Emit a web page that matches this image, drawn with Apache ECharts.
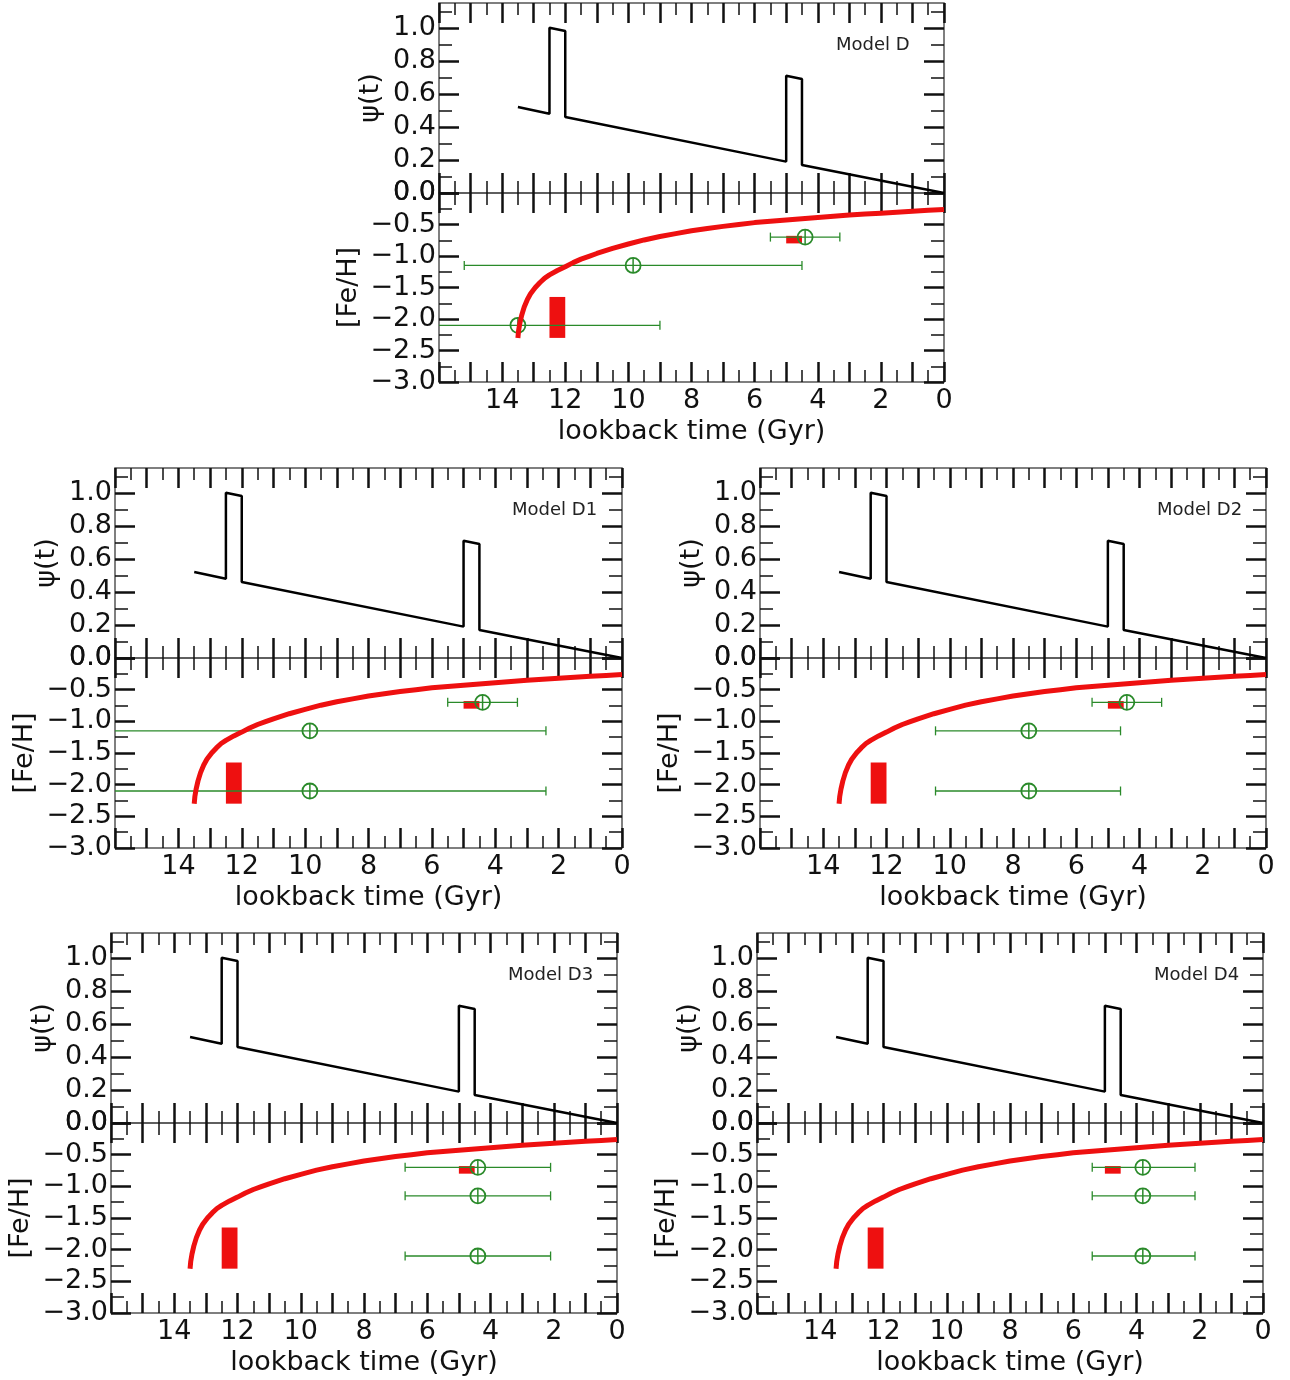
<!DOCTYPE html>
<html><head><meta charset="utf-8">
<script src="https://cdn.jsdelivr.net/npm/echarts@6/dist/echarts.min.js"></script>
<style>html,body{margin:0;padding:0;background:#fff}#c{width:1290px;height:1380px}</style>
</head><body><div id="c"></div>
<script>
// ---------------- data ----------------
const panelNames = ['Model D', 'Model D1', 'Model D2', 'Model D3', 'Model D4'];

// tick positions / labels
const xTickMajor = [0, 1, 2, 3, 4, 5, 6, 7, 8, 9, 10, 11, 12, 13, 14, 15, 16];
const xTickMinor = [0.5, 1.5, 2.5, 3.5, 4.5, 5.5, 6.5, 7.5, 8.5, 9.5, 10.5, 11.5, 12.5, 13.5, 14.5, 15.5];
const xTickLabels = [0, 2, 4, 6, 8, 10, 12, 14];
const psiTickMajor = [0, 0.2, 0.4, 0.6, 0.8, 1.0];
const psiTickMinor = [0.1, 0.3, 0.5, 0.7, 0.9, 1.1];
const fehTickMajor = [-3, -2.5, -2, -1.5, -1, -0.5, 0];
const fehTickMinor = [-2.75, -2.25, -1.75, -1.25, -0.75, -0.25];

// star formation history psi(t) (same in every panel)
const psiT = [13.5, 12.5, 12.5, 12.0, 12.0, 5.0, 5.0, 4.5, 4.5, 0.0];
const psiV = [0.52, 0.48, 1.00, 0.98, 0.46, 0.19, 0.71, 0.69, 0.17, 0.00];

// age-metallicity relation (red curve)
const fehT = [0, 0.5, 1, 1.5, 2, 2.5, 3, 3.5, 4, 4.5, 5, 5.5, 6, 6.5, 7, 7.5, 8, 8.5, 9, 9.5, 10, 10.5, 11,
  11.25, 11.5, 11.75, 12, 12.25, 12.5, 12.65, 12.8, 12.95, 13.1, 13.2, 13.3, 13.38, 13.44, 13.48, 13.5];
const fehV = [-0.26, -0.275, -0.29, -0.305, -0.32, -0.335, -0.35, -0.37, -0.39, -0.41, -0.43, -0.45, -0.47,
  -0.50, -0.53, -0.565, -0.60, -0.645, -0.69, -0.745, -0.81, -0.88, -0.96,
  -1.005, -1.05, -1.105, -1.17, -1.23, -1.30, -1.35, -1.42, -1.50, -1.60, -1.69, -1.81, -1.94, -2.07, -2.19, -2.30];

// red boxes (bursts)
const boxT0 = [12.0, 4.5];
const boxT1 = [12.5, 5.0];
const boxFeLo = [-2.30, -0.80];
const boxFeHi = [-1.65, -0.68];

// green observed points: centre age, [Fe/H], older limit, younger limit
const obsFe = [-0.70, -1.15, -2.10];
const obsT   = [[4.4, 9.85, 13.5], [4.4, 9.85, 9.85], [4.4, 7.5, 7.5], [4.4, 4.4, 4.4], [3.8, 3.8, 3.8]];
const obsOld = [[5.5, 15.2, 18.0], [5.5, 17.3, 17.3], [5.5, 10.45, 10.45], [6.7, 6.7, 6.7], [5.4, 5.4, 5.4]];
const obsYng = [[3.3, 4.5, 9.0], [3.3, 2.4, 2.4], [3.3, 4.6, 4.6], [2.1, 2.1, 2.1], [2.15, 2.15, 2.15]];

// ---------------- layout ----------------
const boxes = [
  {l: 439, r: 944, t: 3, m: 193, b: 382},
  {l: 115, r: 622, t: 468, m: 658, b: 848},
  {l: 760, r: 1266, t: 468, m: 658, b: 848},
  {l: 111, r: 617, t: 933, m: 1123, b: 1313},
  {l: 757, r: 1263, t: 933, m: 1123, b: 1313}
];
const FONT = 'DejaVu Sans';
const TICK = '#111';
const RED = '#ee1010';
const GREEN = '#2a8a2a';
const PSI_MAX = 1.15;
const TICK_FS = 27;

const grids = [], xAxes = [], yAxes = [], series = [], graphics = [];

const fmtY = v => (v < 0 ? '\u2212' : '') + Math.abs(v).toFixed(1);

function xAx(gi, pos, vals, len, w, labels, name) {
  return {
    type: 'value', gridIndex: gi, position: pos, min: 0, max: 16, inverse: true,
    axisLine: {show: false, onZero: false}, splitLine: {show: false},
    axisTick: {show: true, inside: true, length: len, customValues: vals, lineStyle: {color: TICK, width: w}},
    axisLabel: labels ? {show: true, customValues: labels, margin: 5, fontSize: TICK_FS, color: '#111', fontFamily: FONT,
      formatter: v => String(Math.round(v))} : {show: false},
    name: name || '', nameLocation: 'middle', nameGap: 36,
    nameTextStyle: {fontSize: 27, color: '#111', fontFamily: FONT}
  };
}
function yAx(gi, pos, min, max, vals, len, w, labels, name, gap) {
  return {
    type: 'value', gridIndex: gi, position: pos, min: min, max: max,
    axisLine: {show: false, onZero: false}, splitLine: {show: false},
    axisTick: {show: true, inside: true, length: len, customValues: vals, lineStyle: {color: TICK, width: w}},
    axisLabel: labels ? {show: true, customValues: labels, margin: 3, fontSize: TICK_FS, color: '#111', fontFamily: FONT,
      formatter: fmtY} : {show: false},
    name: name || '', nameLocation: 'middle', nameRotate: 90, nameGap: gap || 50,
    nameTextStyle: {fontSize: 27, color: '#111', fontFamily: FONT}
  };
}

function renderBox(params, api) {
  const a = api.coord([api.value(0), api.value(3)]);
  const b = api.coord([api.value(1), api.value(2)]);
  return {type: 'rect', shape: {x: Math.min(a[0], b[0]), y: Math.min(a[1], b[1]),
    width: Math.abs(b[0] - a[0]), height: Math.abs(b[1] - a[1])}, style: {fill: RED}};
}
function renderObs(params, api) {
  const cs = params.coordSys;
  const x0 = cs.x, x1 = cs.x + cs.width;
  const clamp = x => Math.max(x0, Math.min(x1, x));
  const pc = api.coord([api.value(0), api.value(1)]);
  const po = api.coord([api.value(2), api.value(1)]);
  const py = api.coord([api.value(3), api.value(1)]);
  const st = {stroke: GREEN, lineWidth: 1.3, fill: null};
  const ch = [{type: 'line', shape: {x1: clamp(po[0]), y1: po[1], x2: clamp(py[0]), y2: py[1]}, style: st}];
  [po, py].forEach(p => {
    if (p[0] >= x0 && p[0] <= x1) ch.push({type: 'line', shape: {x1: p[0], y1: p[1] - 4.5, x2: p[0], y2: p[1] + 4.5}, style: st});
  });
  const r = 7.5;
  ch.push({type: 'circle', shape: {cx: pc[0], cy: pc[1], r: r}, style: {stroke: GREEN, lineWidth: 1.8, fill: null}});
  ch.push({type: 'line', shape: {x1: pc[0], y1: pc[1] - r, x2: pc[0], y2: pc[1] + r}, style: {stroke: GREEN, lineWidth: 1.5}});
  return {type: 'group', children: ch};
}

boxes.forEach((bx, p) => {
  const subs = [{top: bx.t, h: bx.m - bx.t, psi: true}, {top: bx.m, h: bx.b - bx.m, psi: false}];
  const idx = [];
  subs.forEach(s => {
    const gi = grids.length;
    grids.push({left: bx.l, top: s.top, width: bx.r - bx.l, height: s.h, show: true,
      borderColor: '#555', borderWidth: 1.5, backgroundColor: 'transparent'});
    const xi = xAxes.length, yi = yAxes.length;
    xAxes.push(xAx(gi, 'bottom', xTickMajor, 20, 2.5, s.psi ? null : xTickLabels, s.psi ? '' : 'lookback time (Gyr)'));
    xAxes.push(xAx(gi, 'bottom', xTickMinor, 12, 1.5));
    xAxes.push(xAx(gi, 'top', xTickMajor, 20, 2.5));
    xAxes.push(xAx(gi, 'top', xTickMinor, 12, 1.5));
    const mn = s.psi ? 0 : -3, mx = s.psi ? PSI_MAX : 0;
    const maj = s.psi ? psiTickMajor : fehTickMajor, mnr = s.psi ? psiTickMinor : fehTickMinor;
    yAxes.push(yAx(gi, 'left', mn, mx, maj, 20, 2.5, maj, s.psi ? '\u03c8(t)' : '[Fe/H]', s.psi ? 55 : 77));
    yAxes.push(yAx(gi, 'left', mn, mx, mnr, 13, 1.5));
    yAxes.push(yAx(gi, 'right', mn, mx, maj, 20, 2.5));
    yAxes.push(yAx(gi, 'right', mn, mx, mnr, 13, 1.5));
    idx.push({x: xi, y: yi});
  });

  series.push({
    type: 'line', xAxisIndex: idx[0].x, yAxisIndex: idx[0].y, symbol: 'none', silent: true,
    lineStyle: {color: '#000', width: 2.5}, data: psiT.map((t, i) => [t, psiV[i]])
  });
  series.push({
    type: 'custom', xAxisIndex: idx[1].x, yAxisIndex: idx[1].y, silent: true, renderItem: renderBox,
    data: boxT0.map((t, i) => [t, boxT1[i], boxFeLo[i], boxFeHi[i]])
  });
  series.push({
    type: 'custom', xAxisIndex: idx[1].x, yAxisIndex: idx[1].y, silent: true, renderItem: renderObs,
    data: obsT[p].map((t, i) => [t, obsFe[i], obsOld[p][i], obsYng[p][i]])
  });
  series.push({
    type: 'line', xAxisIndex: idx[1].x, yAxisIndex: idx[1].y, symbol: 'none', silent: true,
    smooth: false,
    lineStyle: {color: RED, width: 5, join: 'round'}, data: fehT.map((t, i) => [t, fehV[i]])
  });

  graphics.push({type: 'text', left: bx.l + 397, top: bx.t + 33, silent: true,
    style: {text: panelNames[p], font: '18px "DejaVu Sans"', fill: '#222'}});
});

const chart = echarts.init(document.getElementById('c'), null, {renderer: 'canvas'});
chart.setOption({
  animation: false,
  backgroundColor: '#fff',
  textStyle: {fontFamily: FONT},
  grid: grids, xAxis: xAxes, yAxis: yAxes, series: series, graphic: graphics
});
</script></body></html>
